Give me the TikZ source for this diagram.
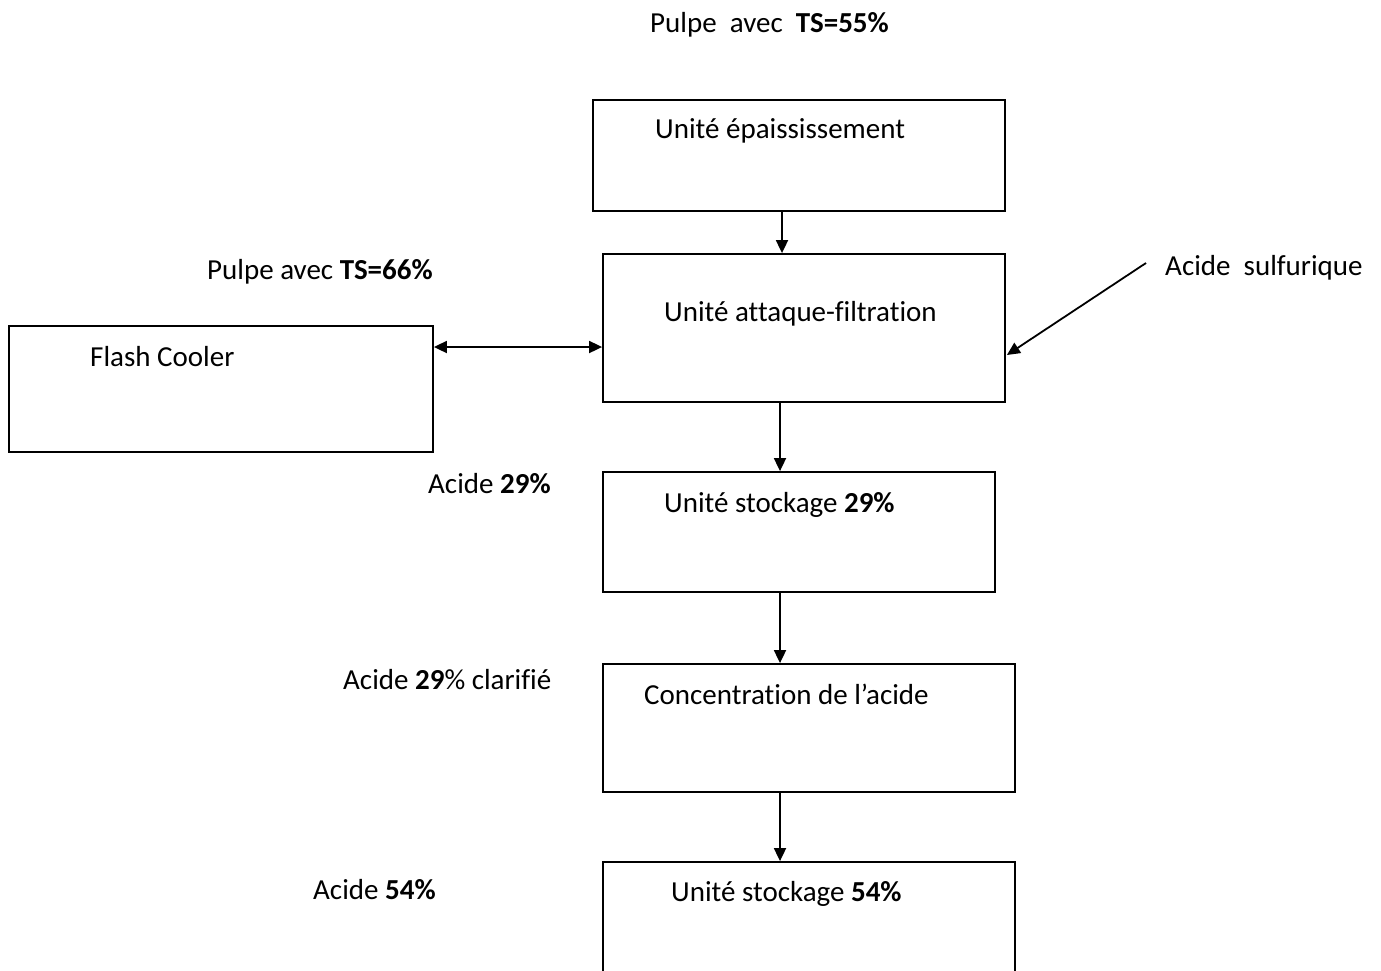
\documentclass[tikz,border=0pt]{standalone}
\usepackage{fontspec}
\setmainfont{Carlito}[Ligatures=NoCommon]
\usetikzlibrary{arrows.meta}
\begin{document}
\begin{tikzpicture}[x=1pt,y=-1pt,
  box/.style={draw,line width=1.8pt,inner sep=0pt,minimum width=#1},
  lbl/.style={anchor=base west,inner sep=0pt,font=\fontsize{29}{34}\selectfont},
  arr/.style={line width=1.8pt,-{Triangle[length=13pt,width=12pt]}},
  arrb/.style={line width=1.8pt,{Triangle[length=13pt,width=12pt]}-{Triangle[length=13pt,width=12pt]}}]
\useasboundingbox (0,0) rectangle (1381,970);
% boxes
\node[box=412pt,minimum height=111pt] (b1) at (799,155.5) {};
\node[box=402pt,minimum height=148pt] (b2) at (804,328) {};
\node[box=424pt,minimum height=126pt] (fc) at (221,389) {};
\node[box=392pt,minimum height=120pt] (b3) at (799,532) {};
\node[box=412pt,minimum height=128pt] (b4) at (809,728) {};
\node[box=412pt,minimum height=112pt] (b5) at (809,918) {};
% texts
\node[lbl] (t0) at (650,32) {Pulpe\ \ avec\ \ \textbf{TS=55\%}};
\node[lbl] (t1) at (655,138) {Unité épaississement};
\node[lbl] (t2) at (207,279) {Pulpe avec \textbf{TS=66\%}};
\node[lbl] (t3) at (664,321) {Unité attaque-filtration};
\node[lbl] (t4) at (1165,275) {Acide\ \ sulfurique};
\node[lbl] (t5) at (90,366) {Flash Cooler};
\node[lbl] (t6) at (428,493) {Acide \textbf{29\%}};
\node[lbl] (t7) at (664,512) {Unité stockage \textbf{29\%}};
\node[lbl] (t8) at (343,689) {Acide \textbf{29}\% clarifié};
\node[lbl] (t9) at (644,704) {Concentration de l’acide};
\node[lbl] (t10) at (313,899) {Acide \textbf{54\%}};
\node[lbl] (t11) at (671,901) {Unité stockage \textbf{54\%}};
% connectors
\coordinate (sa) at (1146,263);
\draw[arr] ([xshift=-17pt]b1.south) -- ([xshift=-17pt]b1.south |- b2.north);
\draw[arr] ([xshift=-24pt]b2.south) -- ([xshift=-24pt]b2.south |- b3.north);
\draw[arr] ([xshift=-19pt]b3.south) -- ([xshift=-19pt]b3.south |- b4.north);
\draw[arr] ([xshift=-29pt]b4.south) -- ([xshift=-29pt]b4.south |- b5.north);
\draw[arrb] ([yshift=42pt]fc.east) -- ([yshift=42pt]fc.east -| b2.west);
\draw[arr] (sa) -- ([yshift=-27pt,xshift=1pt]b2.east);
\end{tikzpicture}
\end{document}
